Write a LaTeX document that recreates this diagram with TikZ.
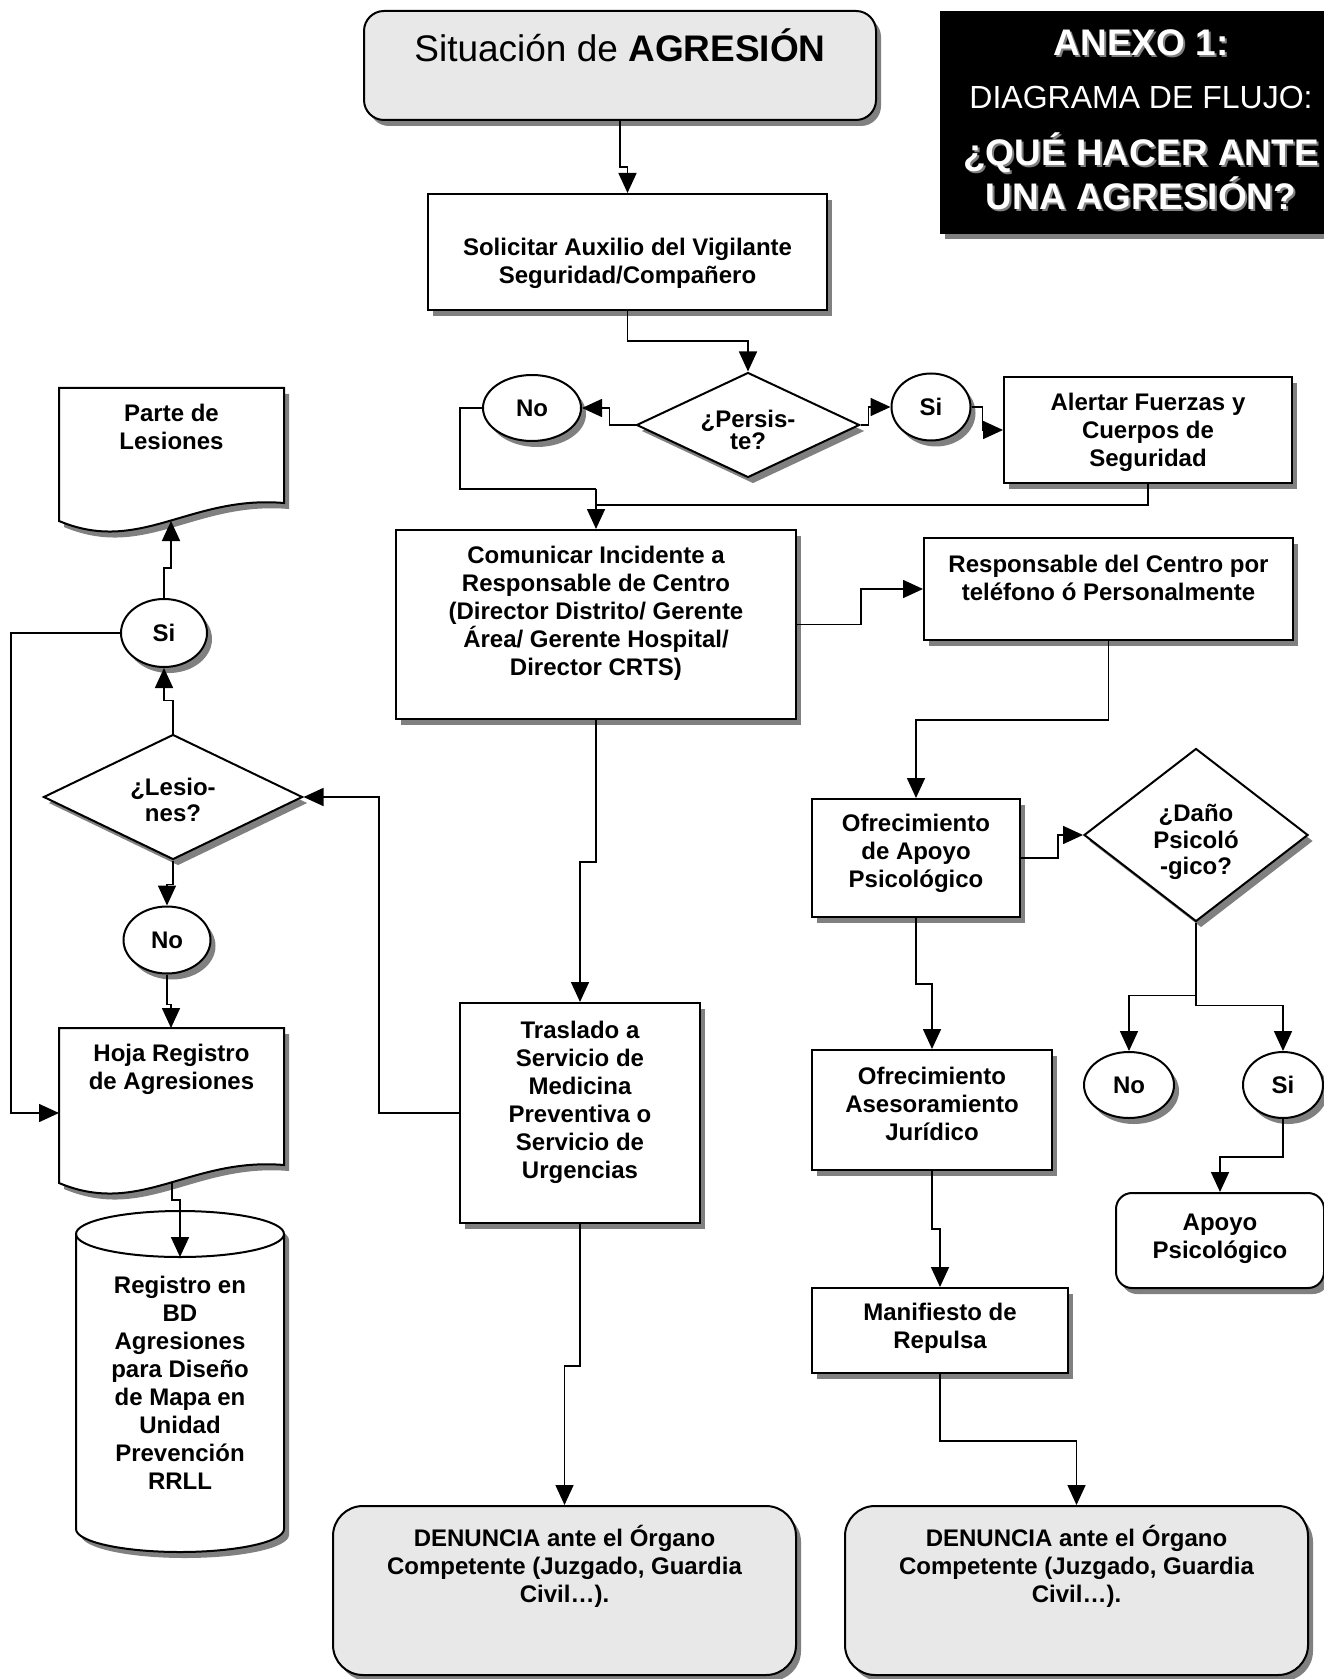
\documentclass[tikz,border=0pt]{standalone}
\usepackage{fontspec}
\setmainfont{Liberation Sans}
\usetikzlibrary{shapes.geometric,shadows,arrows.meta,calc}
\definecolor{shgray}{HTML}{808080}
\definecolor{boxgray}{HTML}{E8E8E8}
\newcommand\bodyfont{\fontsize{12}{14}\selectfont\bfseries}
\newcommand\shtxt[1]{\leavevmode\rlap{\hspace{1pt}\raisebox{-1pt}{\color{shgray}#1}}#1}
\begin{document}
\begin{tikzpicture}[x=0.5pt,y=-0.5pt,
  shd/.style={drop shadow={shadow xshift=2.5pt,shadow yshift=-3pt,fill=shgray,opacity=1}},
  box/.style={draw,line width=1pt,fill=white,shd,rectangle,inner sep=0pt},
  rbox/.style={box,rounded corners=#1},
  dia/.style={draw,line width=1pt,fill=white,shd,diamond,inner sep=0pt},
  oval/.style={draw,line width=1pt,fill=white,shd,ellipse,inner sep=0pt,font=\bodyfont},
  txt/.style={align=center,font=\bodyfont,inner sep=0pt},
  dtxt/.style={align=center,font=\fontsize{12}{#1}\selectfont\bfseries,inner sep=0pt},
  wtxt/.style={text=white,inner sep=0pt,anchor=base},
  ln/.style={line width=0.8pt},
  arr/.style={line width=0.8pt,-{Triangle[length=10pt,width=9pt]}},
  shapeline/.style={line width=1pt,fill=white,shd}
]
\fill[white] (0,0) rectangle (1323,1679);
\useasboundingbox (0,0) rectangle (1323,1679);

% ---------- top ----------
\node[rbox=10pt,fill=boxgray,minimum width=256pt,minimum height=54.5pt] (top) at (620,65.5) {};
\node[inner sep=0pt,anchor=base,font=\fontsize{18.5}{22}\selectfont] (topT) at (620,62) {Situación de \textbf{AGRESIÓN}};

% ---------- annex ----------
\node[draw=black,fill=black,shd,inner sep=0pt,minimum width=202.5pt,minimum height=111pt] (anexo) at (1142.5,122) {};
\node[wtxt,font=\fontsize{18.5}{22}\selectfont\bfseries] (anexoA) at (1141,56) {\shtxt{ANEXO 1:}};
\node[wtxt,font=\fontsize{16}{19}\selectfont] (anexoB) at (1141,108.5) {DIAGRAMA DE FLUJO:};
\node[wtxt,font=\fontsize{18.5}{22}\selectfont\bfseries] (anexoC) at (1141,166) {\shtxt{¿QUÉ HACER ANTE}};
\node[wtxt,font=\fontsize{18.5}{22}\selectfont\bfseries] (anexoD) at (1141,210) {\shtxt{UNA AGRESIÓN?}};

% ---------- centre column ----------
\node[box,minimum width=199.5pt,minimum height=58pt] (sol) at (627.5,252) {};
\node[txt] (solT) at (627.5,263) {Solicitar Auxilio del Vigilante\\Seguridad/Compañero};

\node[dia,minimum width=111.5pt,minimum height=52.5pt] (pers) at (748,425) {};
\node[dtxt=11] (persT) at (748,430) {¿Persis-\\te?};
\node[oval,minimum width=49pt,minimum height=33pt] (no1) at (532,408) {No};
\node[oval,minimum width=39.5pt,minimum height=33.5pt] (si1) at (931,407) {Si};
\node[box,minimum width=144pt,minimum height=53pt] (alert) at (1148,430) {};
\node[txt] (alertT) at (1148,432.5) {Alertar Fuerzas y\\Cuerpos de\\Seguridad};

\node[box,minimum width=200pt,minimum height=94.5pt] (comm) at (596,624.5) {};
\node[txt] (commT) at (596,613) {Comunicar Incidente a\\Responsable de Centro\\(Director Distrito/ Gerente\\Área/ Gerente Hospital/\\Director CRTS)};

\node[box,minimum width=184.5pt,minimum height=51pt] (resp) at (1108.5,589) {};
\node[txt] (respT) at (1108.5,577.5) {Responsable del Centro por\\teléfono ó Personalmente};

\node[box,minimum width=104pt,minimum height=59pt] (ofap) at (916,858) {};
\node[txt] (ofapT) at (916,853) {Ofrecimiento\\de Apoyo\\Psicológico};

\node[dia,minimum width=112pt,minimum height=86.5pt] (dano) at (1196,835) {};
\node[dtxt=13.2] (danoT) at (1196,842) {¿Daño\\Psicoló\\-gico?};
\node[oval,minimum width=45pt,minimum height=33pt] (no3) at (1129,1085) {No};
\node[oval,minimum width=40pt,minimum height=33pt] (si3) at (1283,1085) {Si};
\node[rbox=8pt,minimum width=104pt,minimum height=47.5pt] (apoyo) at (1220,1240.5) {};
\node[txt] (apoyoT) at (1220,1239) {Apoyo\\Psicológico};

\node[box,minimum width=120pt,minimum height=60pt] (ases) at (932,1110) {};
\node[txt] (asesT) at (932,1104) {Ofrecimiento\\Asesoramiento\\Jurídico};

\node[box,minimum width=128pt,minimum height=42.5pt] (mani) at (940,1330.5) {};
\node[txt] (maniT) at (940,1328) {Manifiesto de\\Repulsa};

\node[rbox=15pt,fill=boxgray,minimum width=231.5pt,minimum height=84.5pt] (den2) at (1076.5,1590.5) {};
\node[txt] (den2T) at (1076.5,1566) {DENUNCIA ante el Órgano\\Competente (Juzgado, Guardia\\Civil…).};

\node[box,minimum width=120pt,minimum height=110pt] (tras) at (580,1113) {};
\node[txt] (trasT) at (580,1102) {Traslado a\\Servicio de\\Medicina\\Preventiva o\\Servicio de\\Urgencias};

\node[rbox=15pt,fill=boxgray,minimum width=231.5pt,minimum height=84.5pt] (den1) at (564.5,1590.5) {};
\node[txt] (den1T) at (564.5,1566) {DENUNCIA ante el Órgano\\Competente (Juzgado, Guardia\\Civil…).};

% ---------- left column ----------
\draw[shapeline] (59,388) -- (284,388) -- (284,503) .. controls (190,495) and (140,555) .. (59,521) -- cycle;
\node[txt] (parte) at (171.5,427) {Parte de\\Lesiones};
\coordinate (parteB) at (171,521);

\node[oval,minimum width=43pt,minimum height=34pt] (si2) at (164,633) {Si};
\node[dia,minimum width=129.5pt,minimum height=62.5pt] (les) at (173,797) {};
\node[dtxt=12.8] (lesT) at (173,800) {¿Lesio-\\nes?};
\node[oval,minimum width=43.5pt,minimum height=33.5pt] (no2) at (167,940) {No};

\draw[shapeline] (59,1028) -- (284,1028) -- (284,1165) .. controls (190,1157) and (140,1217) .. (59,1183) -- cycle;
\node[txt] (hoja) at (171.5,1069) {Hoja Registro\\de Agresiones};
\coordinate (hojaTop) at (171,1028);
\coordinate (hojaL) at (59,1113);
\coordinate (hojaB) at (172,1182);

\draw[shapeline] (76,1234) -- (76,1529) arc[start angle=180,end angle=360,x radius=52pt,y radius=11.5pt]
  -- (284,1234) arc[start angle=0,end angle=180,x radius=52pt,y radius=11.5pt] -- cycle;
\draw[line width=1pt] (76,1234) arc[start angle=180,end angle=360,x radius=52pt,y radius=11.5pt];
\node[txt] (cyl) at (180,1383) {Registro en\\BD\\Agresiones\\para Diseño\\de Mapa en\\Unidad\\Prevención\\RRLL};
\coordinate (cylTop) at (180,1257);

% ---------- connectors ----------
\coordinate (j1) at (596,489);
\coordinate (j2) at (596,505);
\draw[arr] (top.south) -- ++(0,46) -| (sol.north);
\draw[arr] (sol.south) -- ++(0,30) -| (pers.north);
\draw[arr] (pers.west) -- ++(-26,0) |- (no1.east);
\draw[arr] (pers.east) -- ++(8,0) |- (si1.west);
\draw[arr] (si1.east) -- ++(11,0) |- (alert.west);
\draw[ln] (no1.west) -- ++(-22,0) |- (j1);
\draw[ln] (alert.south) |- (j2);
\draw[arr] (j1) -- (comm.north);
\draw[arr] (comm.east) -- ++(64,0) |- (resp.west);
\draw[arr] (resp.south) -- ++(0,79) -| (ofap.north);
\draw[arr] (ofap.east) -- ++(37,0) |- (dano.west);
\draw[arr] (dano.south) -- ++(0,73) -| (no3.north);
\draw[arr] (dano.south) -- ++(0,83) -| (si3.north);
\draw[arr] (si3.south) -- ++(0,38) -| (apoyo.north);
\draw[arr] (ofap.south) -- ++(0,66) -| (ases.north);
\draw[arr] (ases.south) -- ++(0,58) -| (mani.north);
\draw[arr] (mani.south) -- ++(0,67) -| (den2.north);
\draw[arr] (comm.south) -- ++(0,142) -| (tras.north);
\draw[arr] (tras.south) -- ++(0,142) -| (den1.north);
\draw[arr] (tras.west) -- ++(-80,0) |- (les.east);
\draw[arr] (les.north) -- ++(0,-33) -| (si2.south);
\draw[arr] (si2.north) -- ++(0,-30) -| (parteB);
\draw[arr] (si2.west) -- ++(-109,0) |- (hojaL);
\draw[arr] (les.south) -- ++(0,24) -| (no2.north);
\draw[arr] (no2.south) -- ++(0,30) -| (hojaTop);
\draw[arr] (hojaB) -- ++(0,18) -| (cylTop);
\end{tikzpicture}
\end{document}
